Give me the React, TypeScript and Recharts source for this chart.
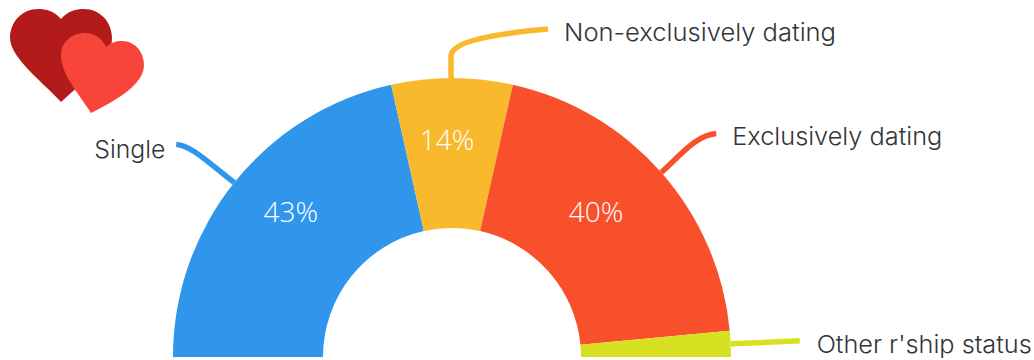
import { PieChart, Pie, Cell } from "recharts"

const statuses = ["Single", "Non-exclusively dating", "Exclusively dating", "Other r'ship status"]
const shares = [43, 14, 40, 3]
const colors = ["#2F96EC", "#F8BA2C", "#F8502B", "#D7E021"]

const data = statuses.map((name, i) => ({ name, value: shares[i] }))

const RADIAN = Math.PI / 180

// per-slice label placement, offsets are from the point on the rim at the slice's mid angle
const leaders = [
  { path: "c -24 -18 -42 -37 -58 -38", nameX: -140, nameY: -25, nameW: 71, width: 5.5 },
  { path: "m -1 0 v -22 c 0 -14 40 -22 97 -27", nameX: 112, nameY: -37, nameW: 272, width: 5.5 },
  { path: "c 20 -18 34 -37 55 -39", nameX: 71, nameY: -27, nameW: 210, width: 5.5 },
  { path: "l 69 -3", nameX: 86, nameY: 9, nameW: 215, width: 5.5 },
]
const pctOffsets = [
  { dx: -2, dy: -18 },
  { dx: -5, dy: -14 },
  { dx: -9, dy: -11 },
]

function SliceLabel(props: any) {
  const { cx, cy, midAngle, outerRadius, innerRadius, index, value } = props
  const cos = Math.cos(midAngle * RADIAN)
  const sin = Math.sin(midAngle * RADIAN)
  const sx = cx + outerRadius * cos
  const sy = cy - outerRadius * sin
  const mid = (outerRadius + innerRadius) / 2
  const leader = leaders[index]
  const pct = pctOffsets[index]
  return (
    <g>
      <path d={`M ${sx} ${sy} ${leader.path}`} fill="none" stroke={colors[index]} strokeWidth={leader.width} />
      <text
        x={sx + leader.nameX}
        y={sy + leader.nameY}
        fill="#333538"
        fontFamily="Inter, sans-serif"
        fontSize={24}
        fontWeight={300}
        textLength={leader.nameW}
        lengthAdjust="spacingAndGlyphs"
      >
        {statuses[index]}
      </text>
      {pct && (
        <text
          x={cx + mid * cos + pct.dx}
          y={cy - mid * sin + pct.dy}
          fill="#fff"
          fontFamily="'Open Sans', sans-serif"
          fontSize={28}
          fontWeight={300}
          textAnchor="middle"
          dominantBaseline="central"
        >
          {value}%
        </text>
      )}
    </g>
  )
}

function Hearts() {
  return (
    <svg width={160} height={120} style={{ position: "absolute", left: 0, top: 0 }}>
      <path
        d="M61 19 C68 11 76 9 84 9 C100 9 112 22 112 38 C112 58 90 76 61 102 C45 84 10 58 10 38 C10 22 22 9 38 9 C46 9 54 11 61 19 Z"
        fill="#B31B1B"
      />
      <path
        d="M106 47 C111 42 117 41 122 41 C135 41 144 52 144 65 C144 85 115 101 91 113 C80 95 61 75 61 55 C61 42 72 33 85 33 C94 33 102 38 106 47 Z"
        fill="#F8453A"
      />
    </svg>
  )
}

export default function App() {
  return (
    <div style={{ position: "absolute", left: 0, top: 0, width: 1034, height: 360, background: "#fff" }}>
      <PieChart width={1034} height={360} margin={{ top: 0, right: 0, bottom: 0, left: 0 }}>
        <Pie
          data={data}
          dataKey="value"
          cx={452}
          cy={357}
          startAngle={180}
          endAngle={0}
          innerRadius={129}
          outerRadius={279}
          stroke="none"
          label={SliceLabel}
          labelLine={false}
          isAnimationActive={false}
        >
          {data.map((d, i) => (
            <Cell key={d.name} fill={colors[i]} />
          ))}
        </Pie>
      </PieChart>
      <Hearts />
    </div>
  )
}
